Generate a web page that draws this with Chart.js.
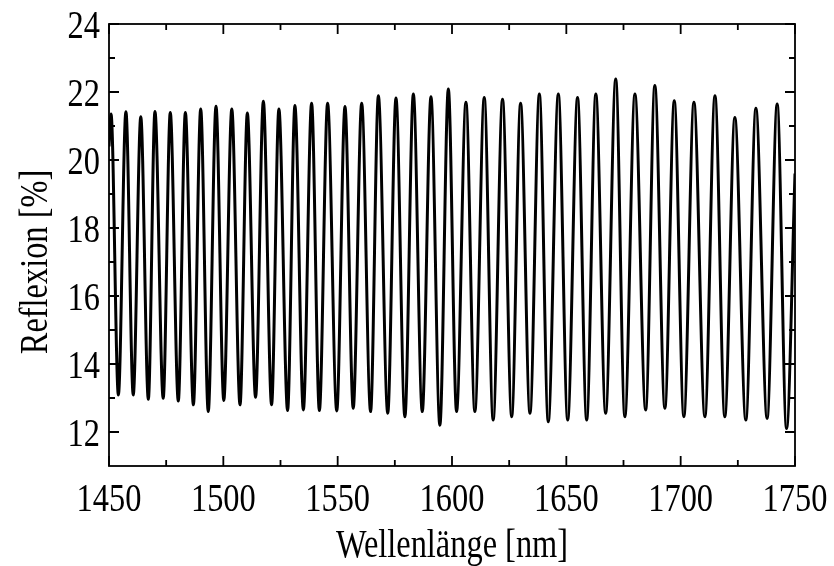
<!DOCTYPE html>
<html>
<head>
<meta charset="utf-8">
<title>Reflexion</title>
<script src="https://cdn.jsdelivr.net/npm/chart.js@4.4.1/dist/chart.umd.min.js"></script>
<style>
  html, body { margin: 0; padding: 0; background: #fff; }
  #wrap { width: 834px; height: 566px; }
</style>
</head>
<body>
<div id="wrap"><canvas id="reflexChart" width="834" height="566"></canvas></div>
<script>
// Maxima der Interferenzstreifen: Wellenlänge [nm] und Reflexion [%]
const peakWl = [1450.9, 1457.4, 1463.9, 1470.1, 1476.8, 1483.4, 1490.1, 1496.8, 1503.7, 1510.5,
                1517.5, 1524.3, 1531.3, 1538.6, 1545.6, 1553.2, 1560.5, 1567.8, 1575.5, 1583.1,
                1590.8, 1598.4, 1606.1, 1614.1, 1622.1, 1630.0, 1638.2, 1646.5, 1654.9, 1662.9,
                1671.6, 1680.0, 1688.7, 1697.2, 1705.8, 1715.0, 1723.7, 1732.9, 1742.2];
const peakR = [21.35, 21.42, 21.27, 21.43, 21.40, 21.40, 21.50, 21.58, 21.50, 21.38,
               21.73, 21.50, 21.60, 21.67, 21.67, 21.57, 21.67, 21.89, 21.82, 21.94,
               21.86, 22.09, 21.70, 21.84, 21.79, 21.67, 21.94, 21.94, 21.84, 21.94,
               22.38, 21.94, 22.19, 21.74, 21.70, 21.89, 21.25, 21.52, 21.65];

// Minima
const dipWl = [1454.1, 1460.6, 1467.2, 1473.7, 1480.3, 1486.9, 1493.4, 1500.2, 1507.3, 1514.1,
               1521.1, 1528.1, 1535.0, 1542.0, 1549.6, 1556.8, 1564.4, 1571.9, 1579.4, 1587.0,
               1594.7, 1602.0, 1610.0, 1618.0, 1626.1, 1634.1, 1642.1, 1650.6, 1658.9, 1667.2,
               1675.6, 1684.7, 1693.1, 1701.4, 1710.6, 1719.3, 1728.5, 1737.8, 1746.3];
const dipR = [13.09, 13.09, 12.96, 12.99, 12.91, 12.80, 12.60, 12.93, 12.80, 13.02,
              12.80, 12.63, 12.65, 12.63, 12.62, 12.70, 12.60, 12.55, 12.45, 12.60,
              12.20, 12.60, 12.60, 12.35, 12.45, 12.55, 12.30, 12.35, 12.35, 12.55,
              12.45, 12.65, 12.70, 12.45, 12.45, 12.45, 12.35, 12.40, 12.10];

// Anfang und Ende der Messung
const edgeWl = [1450, 1750];
const edgeR = [20.4, 19.6];

// Achsenbeschriftung
const xTicks = [1450, 1500, 1550, 1600, 1650, 1700, 1750];
const xMinor = [1475, 1525, 1575, 1625, 1675, 1725];
const yTicks = [12, 14, 16, 18, 20, 22, 24];
const yMinor = [13, 15, 17, 19, 21, 23];

const xTitle = 'Wellenlänge [nm]';
const yTitle = 'Reflexion [%]';

// alle Punkte nach Wellenlänge sortiert zusammenfügen
const points = [];
peakWl.forEach((w, i) => points.push({ x: w, y: peakR[i] }));
dipWl.forEach((w, i) => points.push({ x: w, y: dipR[i] }));
edgeWl.forEach((w, i) => points.push({ x: w, y: edgeR[i] }));
points.sort((a, b) => a.x - b.x);

const FONT_PX = 41;
const SQUEEZE = 0.79;   // schmale Serifenschrift

function drawText(ctx, text, x, y, rot, align) {
    ctx.save();
    ctx.translate(x, y);
    if (rot) ctx.rotate(rot);
    ctx.scale(SQUEEZE, 1);
    ctx.textAlign = align;
    ctx.textBaseline = 'alphabetic';
    ctx.fillText(text, 0, 0);
    ctx.restore();
}

// Rahmen, nach innen zeigende Striche und Beschriftung
const framePlugin = {
    id: 'frame',
    afterDatasetsDraw(chart) {
        const { ctx, chartArea: a, scales: { x, y } } = chart;
        ctx.save();
        ctx.strokeStyle = '#000';
        ctx.lineWidth = 1.8;
        ctx.strokeRect(a.left, a.top, a.right - a.left, a.bottom - a.top);

        ctx.beginPath();
        const tick = (vals, len) => {
            vals.forEach(v => {
                const px = x.getPixelForValue(v);
                ctx.moveTo(px, a.bottom); ctx.lineTo(px, a.bottom - len);
                ctx.moveTo(px, a.top); ctx.lineTo(px, a.top + len);
            });
        };
        const tickY = (vals, len) => {
            vals.forEach(v => {
                const py = y.getPixelForValue(v);
                ctx.moveTo(a.left, py); ctx.lineTo(a.left + len, py);
                ctx.moveTo(a.right, py); ctx.lineTo(a.right - len, py);
            });
        };
        tick(xTicks, 10); tick(xMinor, 6);
        tickY(yTicks, 10); tickY(yMinor, 6);
        ctx.stroke();

        ctx.fillStyle = '#000';
        ctx.font = FONT_PX + 'px "Liberation Serif", "Times New Roman", serif';
        const half = FONT_PX * 0.338;
        xTicks.forEach(v => drawText(ctx, String(v), x.getPixelForValue(v), 497 + half, 0, 'center'));
        yTicks.forEach(v => drawText(ctx, String(v), a.left - 9, y.getPixelForValue(v) + half, 0, 'right'));

        drawText(ctx, xTitle, (a.left + a.right) / 2, 557, 0, 'center');
        drawText(ctx, yTitle, 47, 262, -Math.PI / 2, 'center');
        ctx.restore();
    }
};

const ctx = document.getElementById('reflexChart').getContext('2d');
new Chart(ctx, {
    type: 'line',
    data: {
        datasets: [{
            data: points,
            borderColor: '#000',
            borderWidth: 3,
            pointRadius: 0,
            fill: false,
            cubicInterpolationMode: 'monotone'
        }]
    },
    options: {
        responsive: false,
        devicePixelRatio: 1,
        animation: false,
        layout: { padding: { left: 109, right: 39, top: 24, bottom: 100 } },
        plugins: { legend: { display: false }, tooltip: { enabled: false } },
        scales: {
            x: { type: 'linear', min: 1450, max: 1750, display: false },
            y: { type: 'linear', min: 11, max: 24, display: false }
        }
    },
    plugins: [framePlugin]
});
</script>
</body>
</html>
